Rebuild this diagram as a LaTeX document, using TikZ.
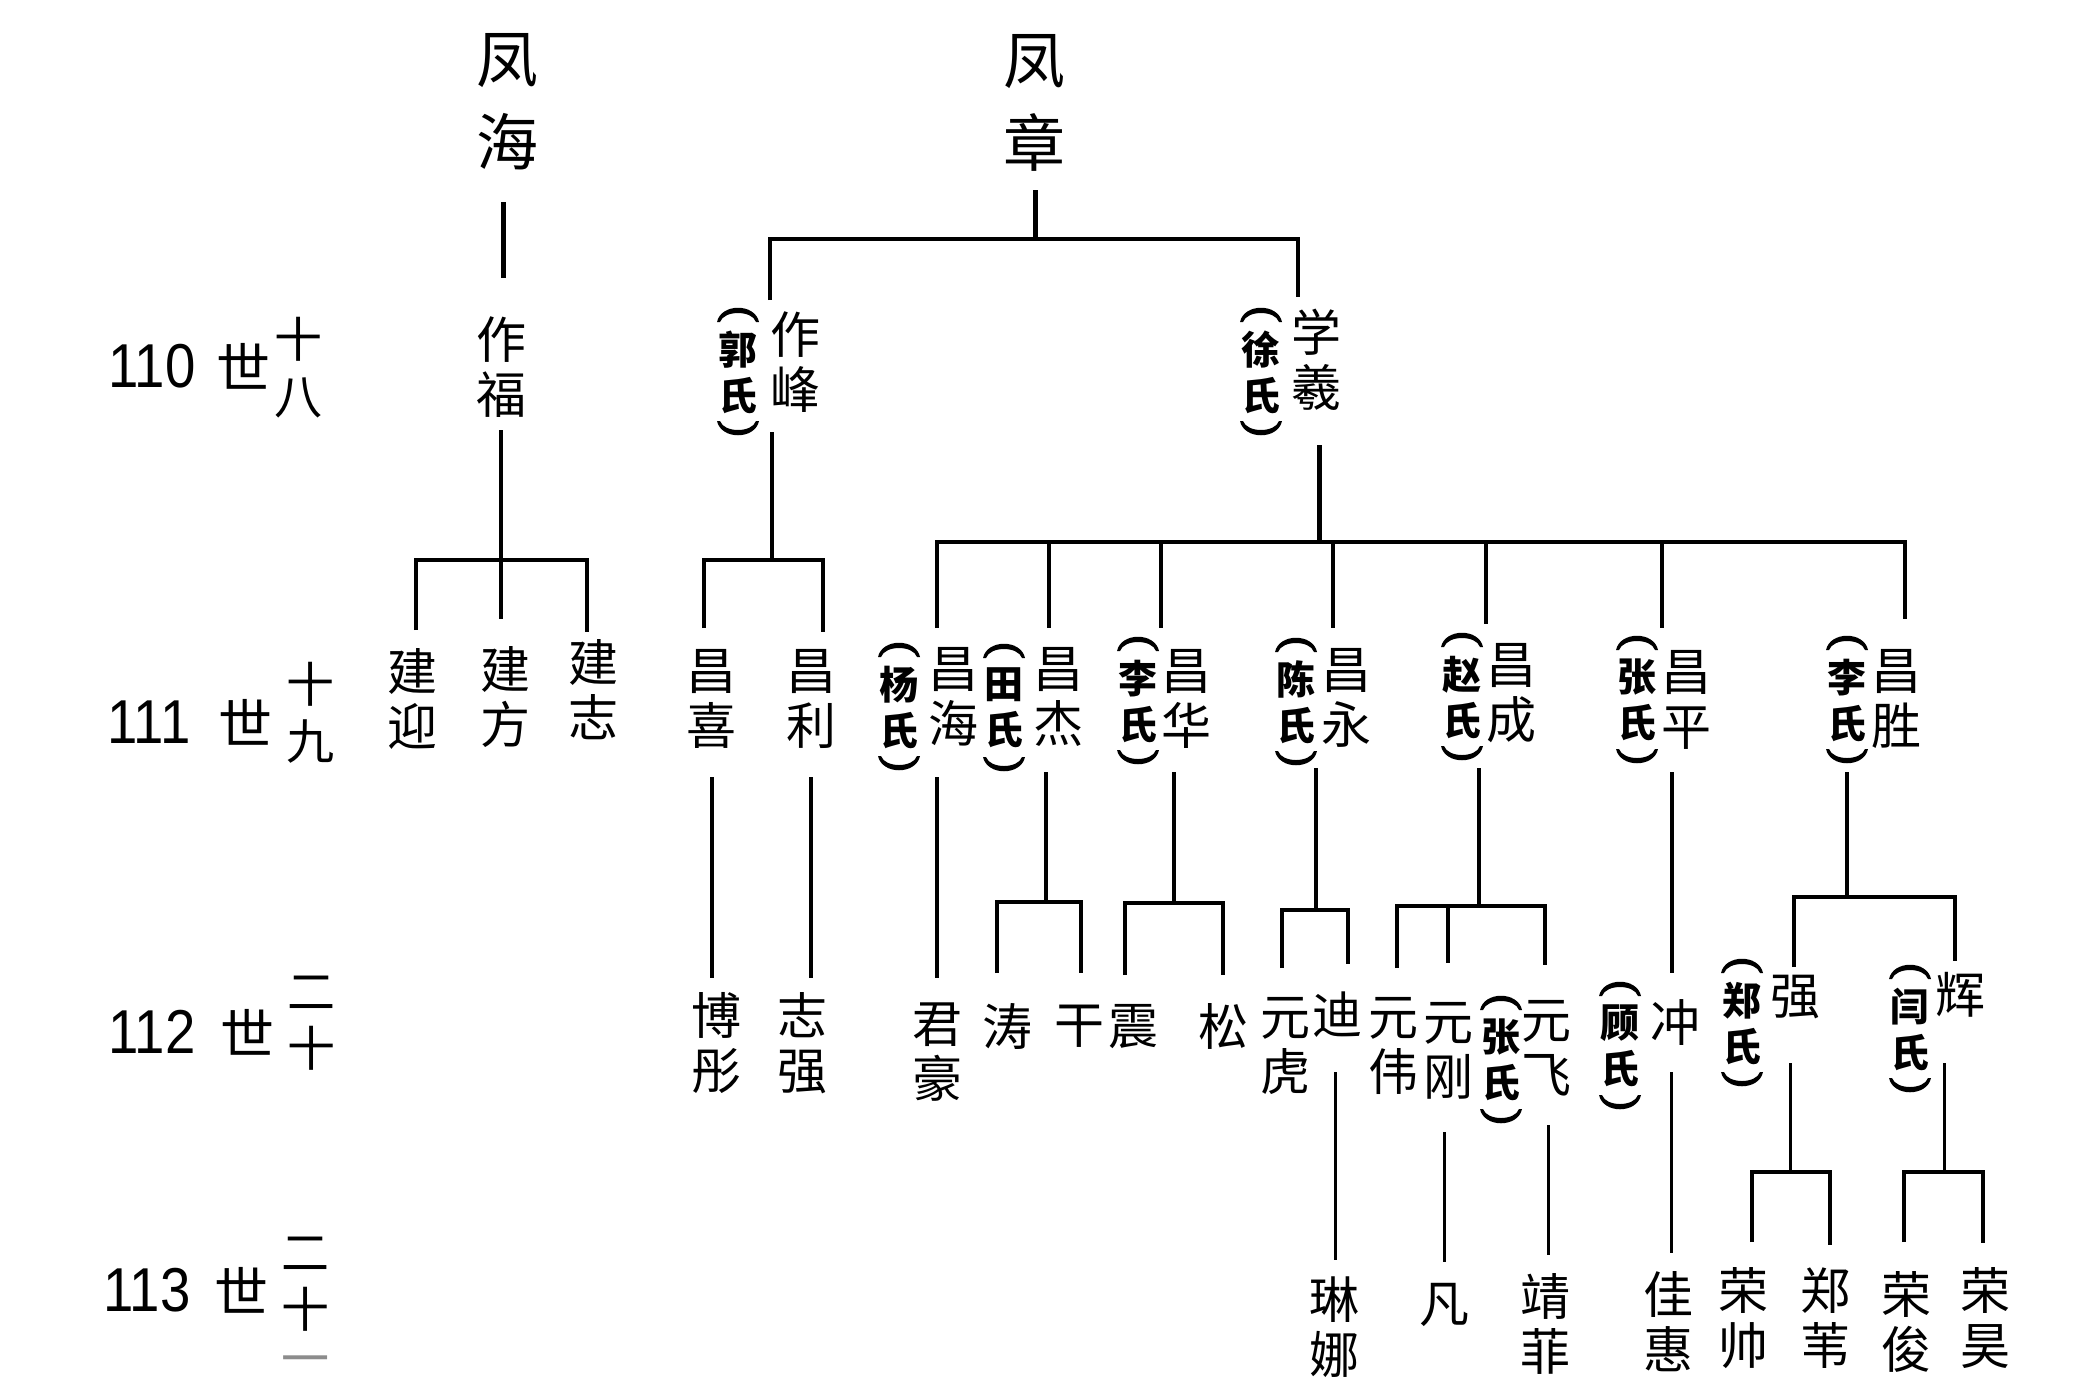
\documentclass[tikz,border=0pt]{standalone}
\usepackage{fontspec}
\newfontfamily\cjk{Noto Sans CJK SC}
\newfontfamily\latn[FakeStretch=0.88]{Liberation Sans}
\newcommand\wifelab[4]{%
  \node[wf] (#1) at (#2,#3) {#4\\氏};
  \fill (#2-21,#3-50) .. controls (#2-17,#3-69) and (#2+17,#3-69) .. (#2+21,#3-50)
     -- (#2+18,#3-50) .. controls (#2+14,#3-62) and (#2-14,#3-62) .. (#2-18,#3-50) -- cycle;
  \fill (#2-21,#3+49) .. controls (#2-17,#3+68) and (#2+17,#3+68) .. (#2+21,#3+49)
     -- (#2+18,#3+49) .. controls (#2+14,#3+61) and (#2-14,#3+61) .. (#2-18,#3+49) -- cycle;}
\begin{document}
\begin{tikzpicture}[x=1pt,y=-1pt,
  nm/.style={font=\cjk\fontsize{50}{55}\selectfont, align=center, inner sep=0pt},
  wf/.style={font=\cjk\bfseries\fontsize{39}{46}\selectfont, align=center, inner sep=0pt},
  tp/.style={font=\cjk\fontsize{62}{83}\selectfont, align=center, inner sep=0pt},
  gn/.style={font=\latn\fontsize{62}{62}\selectfont, inner sep=0pt},
  gs/.style={font=\cjk\fontsize{54}{54}\selectfont, inner sep=0pt},
  gk/.style={font=\cjk\fontsize{48}{57}\selectfont, align=center, inner sep=0pt},
  ln/.style={line width=3.5pt},
  lt/.style={line width=5pt},
  lf/.style={line width=3pt},
]
\fill[white] (0,0) rectangle (2092,1395);
\useasboundingbox (0,0) rectangle (2092,1395);

% ---- generation labels ----
\node[gn] (n110) at (152,366) {110};
\node[gs] (s110) at (243,366) {世};
\node[gk] (k110) at (298,368) {十\\八};
\node[gn] (n111) at (149,722) {111};
\node[gs] (s111) at (245,722) {世};
\node[gk] (k111) at (310,713) {十\\九};
\node[gn] (n112) at (152,1032) {112};
\node[gs] (s112) at (247,1032) {世};
\node[gk] (k112) at (311,1023) {二\\十};
\node[gn] (n113) at (147,1290) {113};
\node[gs] (s113) at (241,1290) {世};
\node[gk] (k113) at (305,1284) {二\\十};
\node[gk, text=black!45] (k113c) at (305,1366) {一};

% ---- top ancestors ----
\node[tp] (fenghai) at (507,102) {凤\\海};
\node[tp] (fengzhang) at (1034,103) {凤\\章};

% ---- generation 110 ----
\node[nm] (zuofu) at (501,367) {作\\福};
\node[nm] (zuofeng) at (795,362) {作\\峰};
\node[nm] (xuexi) at (1316,360) {学\\羲};
\wifelab{guo}{738}{372}{郭}
\wifelab{xu}{1261}{372}{徐}

% ---- generation 111 ----
\node[nm] (jianying) at (412,699) {建\\迎};
\node[nm] (jianfang) at (505,697) {建\\方};
\node[nm] (jianzhi) at (593,690) {建\\志};
\node[nm] (changxi) at (711,699) {昌\\喜};
\node[nm] (changli) at (811,699) {昌\\利};
\node[nm] (changhai) at (953,697) {昌\\海};
\node[nm] (changjie) at (1058,697) {昌\\杰};
\node[nm] (changhua) at (1186,699) {昌\\华};
\node[nm] (changyong) at (1346,698) {昌\\永};
\node[nm] (changcheng) at (1511,693) {昌\\成};
\node[nm] (changping) at (1686,700) {昌\\平};
\node[nm] (changsheng) at (1896,699) {昌\\胜};
\wifelab{yang}{899}{707}{杨}
\wifelab{tian}{1004}{708}{田}
\wifelab{lia}{1138}{701}{李}
\wifelab{chen}{1296}{702}{陈}
\wifelab{zhao}{1462}{697}{赵}
\wifelab{zhanga}{1637}{700}{张}
\wifelab{lib}{1847}{700}{李}

% ---- generation 112 ----
\node[nm] (botong) at (716,1043) {博\\彤};
\node[nm] (zhiqiang) at (802,1043) {志\\强};
\node[nm] (junhao) at (937,1052) {君\\豪};
\node[nm] (tao) at (1007,1026) {涛};
\node[nm] (gan) at (1079,1026) {干};
\node[nm] (zhen) at (1133,1027) {震};
\node[nm] (song) at (1223,1026) {松};
\node[nm] (yuanhu) at (1285,1046) {元\\虎};
\node[nm] (di) at (1337,1015) {迪};
\node[nm] (yuanwei) at (1393,1046) {元\\伟};
\node[nm] (yuangang) at (1448,1051) {元\\刚};
\node[nm] (yuanfei) at (1546,1048) {元\\飞};
\node[nm] (chong) at (1675,1023) {冲};
\node[nm] (qiang) at (1795,997) {强};
\node[nm] (hui) at (1960,995) {辉};
\wifelab{zhangb}{1501}{1060}{张}
\wifelab{gu}{1620}{1046}{顾}
\wifelab{zheng}{1742}{1023}{郑}
\wifelab{yan}{1910}{1029}{闫}

% ---- generation 113 ----
\node[nm] (linna) at (1334,1327) {琳\\娜};
\node[nm] (fan) at (1444,1305) {凡};
\node[nm] (jingfei) at (1545,1324) {靖\\菲};
\node[nm] (jiahui) at (1668,1322) {佳\\惠};
\node[nm] (rongshuai) at (1743,1318) {荣\\帅};
\node[nm] (zhengwei) at (1825,1318) {郑\\苇};
\node[nm] (rongjun) at (1906,1322) {荣\\俊};
\node[nm] (ronghao) at (1985,1318) {荣\\昊};

% ---- connectors ----
\draw[lt] (503,202) -- (503,278);
\draw[ln] (501,430) -- (501,619);
\draw[ln] (416,630) -- (416,560) -- (587,560) -- (587,632);

\draw[lt] (1035,190) -- (1035,239);
\draw[ln] (770,300) -- (770,239) -- (1298,239) -- (1298,297);

\draw[ln] (772,432) -- (772,560);
\draw[ln] (704,628) -- (704,560) -- (823,560) -- (823,632);

\draw[lt] (1319,445) -- (1319,542);
\draw[ln] (937,628) -- (937,542) -- (1905,542) -- (1905,619);
\foreach \xx/\yy in {1049/628,1161/628,1333/628,1486/624,1662/628}
  \draw[ln] (\xx,542) -- (\xx,\yy);

\draw[ln] (712,777) -- (712,978);
\draw[ln] (811,777) -- (811,978);
\draw[ln] (937,777) -- (937,978);

\draw[ln] (1046,772) -- (1046,902);
\draw[ln] (997,973) -- (997,902) -- (1081,902) -- (1081,973);

\draw[ln] (1174,772) -- (1174,903);
\draw[ln] (1125,975) -- (1125,903) -- (1223,903) -- (1223,975);

\draw[ln] (1316,768) -- (1316,910);
\draw[ln] (1282,968) -- (1282,910) -- (1348,910) -- (1348,964);

\draw[ln] (1479,768) -- (1479,906);
\draw[ln] (1397,968) -- (1397,906) -- (1545,906) -- (1545,965);
\draw[ln] (1448,906) -- (1448,963);

\draw[ln] (1672,772) -- (1672,973);

\draw[ln] (1847,772) -- (1847,897);
\draw[ln] (1794,967) -- (1794,897) -- (1955,897) -- (1955,961);

\draw[lf] (1335,1072) -- (1335,1260);
\draw[lf] (1444,1132) -- (1444,1262);
\draw[lf] (1548,1125) -- (1548,1255);
\draw[lf] (1671,1072) -- (1671,1253);

\draw[lf] (1790,1063) -- (1790,1172);
\draw[ln] (1752,1242) -- (1752,1172) -- (1830,1172) -- (1830,1245);
\draw[lf] (1944,1063) -- (1944,1172);
\draw[ln] (1904,1242) -- (1904,1172) -- (1983,1172) -- (1983,1243);
\end{tikzpicture}
\end{document}
